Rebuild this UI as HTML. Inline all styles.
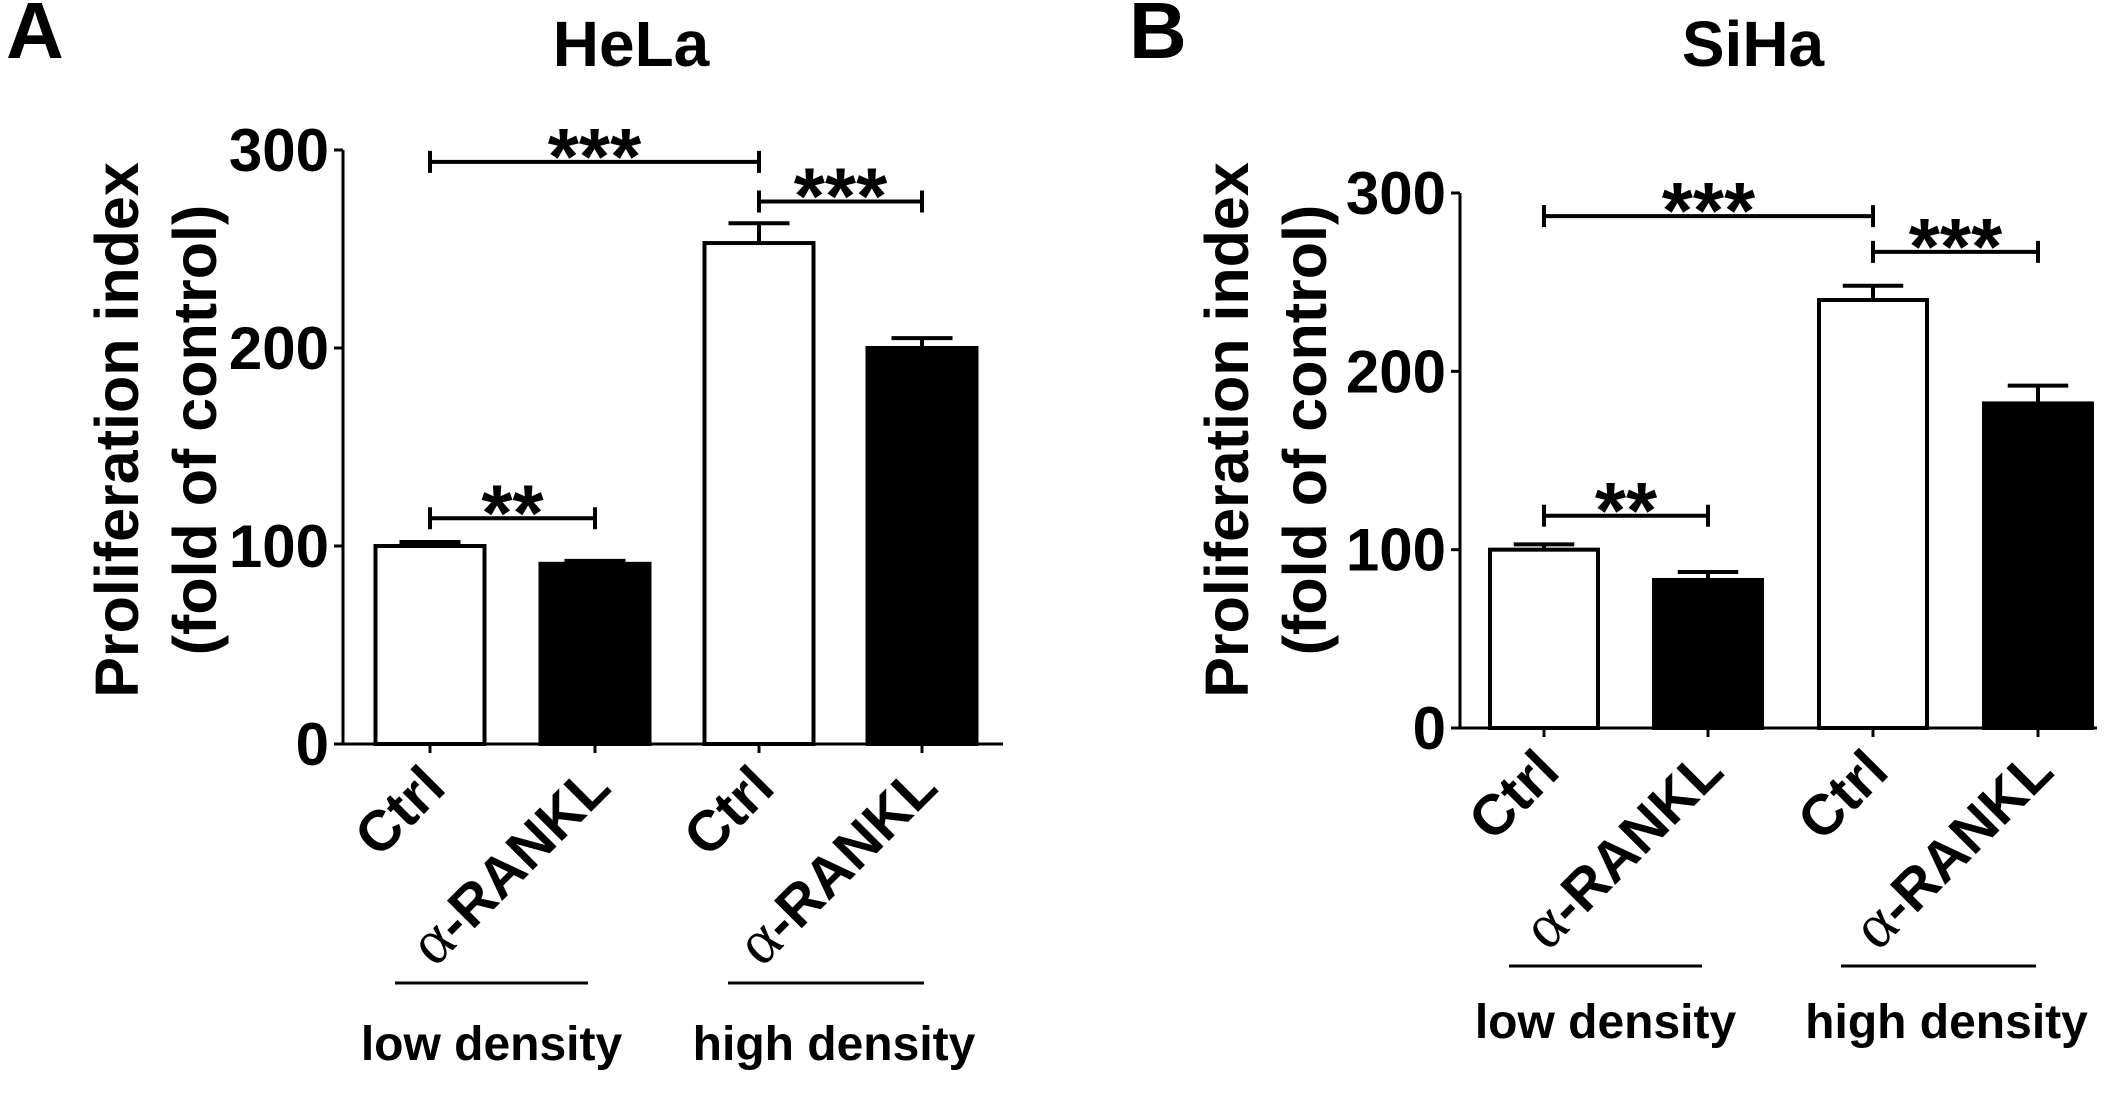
<!DOCTYPE html>
<html><head><meta charset="utf-8"><style>
html,body{margin:0;padding:0;background:#fff;}
svg{display:block;font-family:"Liberation Sans",Arial,sans-serif;font-weight:bold;}
</style></head><body>
<svg id="fig" width="2126" height="1102" viewBox="0 0 2126 1102" xmlns="http://www.w3.org/2000/svg"></svg>
<script>
const categories = ["Ctrl", "α-RANKL", "Ctrl", "α-RANKL"];
const groups = ["low density", "high density"];
const yTicks = [0, 100, 200, 300];
const helaValues = [100, 91, 253, 200];
const helaErrors = [2, 1.5, 10, 5];
const sihaValues = [100, 83, 240, 182];
const sihaErrors = [3, 4.5, 8, 10];
const helaSig = [[0, 2, 294, "***"], [2, 3, 274, "***"], [0, 1, 114, "**"]];
const sihaSig = [[0, 2, 287, "***"], [2, 3, 267, "***"], [0, 1, 119, "**"]];

const NS = "http://www.w3.org/2000/svg";
const svg = document.getElementById("fig");
function mk(tag, attrs, parent, text){
  const e = document.createElementNS(NS, tag);
  for (const k in attrs) e.setAttribute(k, attrs[k]);
  if (text !== undefined) e.textContent = text;
  (parent || svg).appendChild(e);
  return e;
}
function panel(p){
  const g = mk("g", {});
  
  
  const y = v => p.y0 - (v / 300) * (p.y0 - p.y300);
  const bw = p.barW;
  const cx = i => p.centers[i];
  const L = mk("text", {x: p.letterX, y: 58, "font-size": 80}, g, p.letter);
  
  
  const T = mk("text", {x: p.titleX, y: 66, "font-size": 64, "text-anchor": "middle"}, g, p.title);
  
  
  const yt = mk("text", {transform: `translate(${p.ytX},${p.ytY}) rotate(-90)`, "font-size": 61, "text-anchor": "middle"}, g);
  
  
  mk("tspan", {x: 0, y: 0}, yt, "Proliferation index");
  mk("tspan", {x: 0, y: 78}, yt, "(fold of control)");
  p.values.forEach((v, i) => {
    const filled = i % 2 === 1;
    const top = y(v + p.errors[i]);
    const el = mk("line", {x1: cx(i), x2: cx(i), y1: y(v), y2: top, stroke: "#000", "stroke-width": 4}, g);
    
    
    const cap = mk("line", {x1: cx(i) - bw * 0.28, x2: cx(i) + bw * 0.28, y1: top, y2: top, stroke: "#000", "stroke-width": 4}, g);
    
    
    const r = mk("rect", {x: cx(i) - bw / 2, y: y(v), width: bw, height: p.y0 - y(v), fill: filled ? "#000" : "#fff", stroke: "#000", "stroke-width": 4}, g);
    
    
  });
  const ya = mk("line", {x1: p.ax, x2: p.ax, y1: p.y300, y2: p.y0 + 1.5, stroke: "#000", "stroke-width": 3}, g);
  
  
  const xa = mk("line", {x1: p.ax, x2: p.axEnd, y1: p.y0, y2: p.y0, stroke: "#000", "stroke-width": 3}, g);
  
  
  yTicks.forEach(t => {
    const tk = mk("line", {x1: p.ax - 9, x2: p.ax, y1: y(t), y2: y(t), stroke: "#000", "stroke-width": 3}, g);
    
    
    const tl = mk("text", {x: p.ax - 14, y: y(t) + 21, "font-size": 60, "text-anchor": "end"}, g, String(t));
    
    
  });
  categories.forEach((c, i) => {
    const tk = mk("line", {x1: cx(i), x2: cx(i), y1: p.y0, y2: p.y0 + 9, stroke: "#000", "stroke-width": 3}, g);
    
    
    const tx = cx(i) + 18, ty = p.y0 + 46;
    const tl = mk("text", {transform: `translate(${tx},${ty}) rotate(-45)`, "font-size": 57, "text-anchor": "end"}, g);
    
    
    if (c.startsWith("α")) {
      mk("tspan", {"font-family": "Liberation Serif, serif", "font-weight": "normal", "font-size": 64}, tl, "α");
      mk("tspan", {}, tl, c.slice(1));
    } else tl.textContent = c;
  });
  groups.forEach((gname, k) => {
    const x1 = p.under[k][0], x2 = p.under[k][1];
    const ul = mk("line", {x1, x2, y1: p.underY, y2: p.underY, stroke: "#000", "stroke-width": 3}, g);
    
    
    const gl = mk("text", {x: (x1 + x2) / 2 + (k ? 8 : 0), y: p.groupY, "font-size": 48, "text-anchor": "middle"}, g, gname);
    
    
  });
  p.sig.forEach(s => {
    const a = cx(s[0]), b = cx(s[1]), yy = y(s[2]);
    const br = mk("path", {d: `M${a},${yy - 11}V${yy + 11}M${a},${yy}H${b}M${b},${yy - 11}V${yy + 11}`, stroke: "#000", "stroke-width": 4, fill: "none"}, g);
    
    
    const st = mk("text", {x: (a + b) / 2, y: yy + 22, "font-size": 80, "text-anchor": "middle"}, g, s[3]);
    
    
  });
}
panel({name: "panel-a-hela", letter: "A", title: "HeLa", letterX: 6, titleX: 631,
  y0: 744, y300: 150, ax: 343, axEnd: 1003, barW: 109, centers: [430, 595, 759, 922],
  values: helaValues, errors: helaErrors, sig: helaSig, ytX: 138, ytY: 430,
  under: [[395, 588], [728, 924]], underY: 983, groupY: 1060});
panel({name: "panel-b-siha", letter: "B", title: "SiHa", letterX: 1129, titleX: 1753,
  y0: 728, y300: 193, ax: 1460, axEnd: 2097, barW: 108, centers: [1544, 1708, 1873, 2038],
  values: sihaValues, errors: sihaErrors, sig: sihaSig, ytX: 1248, ytY: 430,
  under: [[1509, 1702], [1841, 2036]], underY: 966, groupY: 1038});
</script>
</body></html>
